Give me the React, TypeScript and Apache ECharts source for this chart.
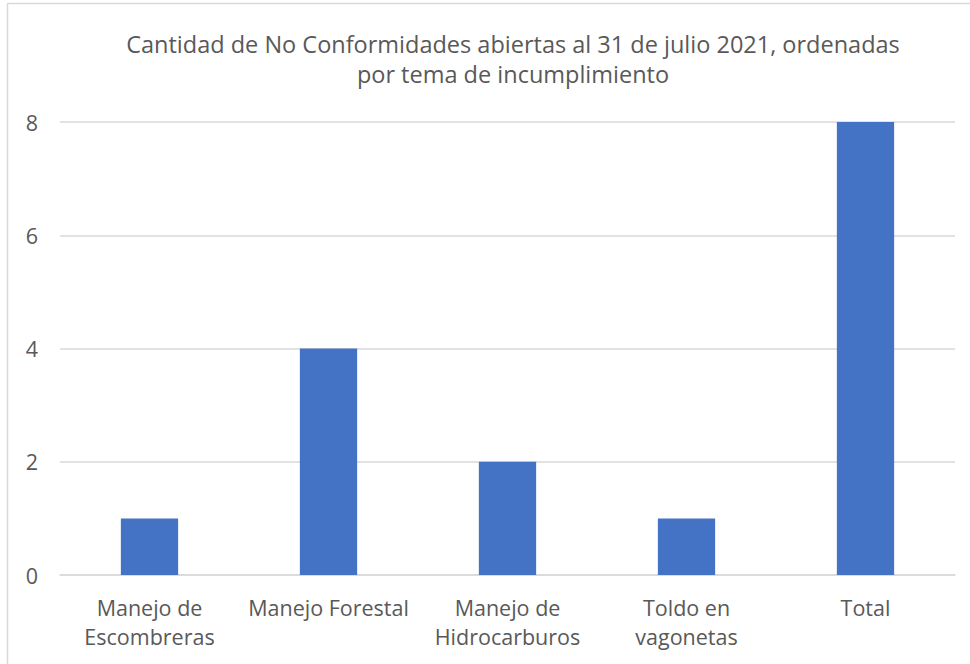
import React, { useEffect, useRef } from "react";
import * as echarts from "echarts";

const categories = [
  "Manejo de\nEscombreras",
  "Manejo Forestal",
  "Manejo de\nHidrocarburos",
  "Toldo en\nvagonetas",
  "Total",
];
const values = [1, 4, 2, 1, 8];
const titleText =
  "Cantidad de No Conformidades abiertas al 31 de julio 2021, ordenadas\npor tema de incumplimiento";

const FONT = "'Open Sans', sans-serif";

export default function App() {
  const ref = useRef<HTMLDivElement>(null);
  useEffect(() => {
    if (!ref.current) return;
    const chart = echarts.init(ref.current, undefined, { renderer: "svg" });
    chart.setOption({
      animation: false,
      backgroundColor: "#ffffff",
      title: {
        text: titleText,
        left: 508,
        top: 24,
        textAlign: "center",
        textStyle: {
          fontFamily: FONT,
          fontSize: 23.5,
          fontWeight: "normal",
          color: "#595959",
          lineHeight: 30,
        },
      },
      graphic: [
        {
          type: "line",
          shape: { x1: 7.5, y1: 3.5, x2: 970, y2: 3.5 },
          style: { stroke: "#d9d9d9", lineWidth: 1.5 },
        },
        {
          type: "line",
          shape: { x1: 7.5, y1: 3.5, x2: 7.5, y2: 664 },
          style: { stroke: "#d9d9d9", lineWidth: 1.5 },
        },
      ],
      grid: { left: 60, right: 15, top: 122, bottom: 89 },
      xAxis: {
        type: "category",
        data: categories,
        axisLine: { lineStyle: { color: "#d9d9d9", width: 1.5 } },
        axisTick: { show: false },
        axisLabel: {
          fontFamily: FONT,
          fontSize: 21.5,
          color: "#595959",
          lineHeight: 29,
          margin: 18,
          interval: 0,
        },
      },
      yAxis: {
        type: "value",
        min: 0,
        max: 8,
        interval: 2,
        axisLine: { show: false },
        axisTick: { show: false },
        splitLine: { lineStyle: { color: "#d9d9d9", width: 1.5 } },
        axisLabel: {
          fontFamily: FONT,
          fontSize: 21.5,
          color: "#595959",
          margin: 22,
        },
      },
      series: [
        {
          type: "bar",
          data: values,
          barWidth: "32%",
          itemStyle: { color: "#4472c4" },
        },
      ],
    });
    return () => chart.dispose();
  }, []);
  return (
    <div
      ref={ref}
      style={{ position: "fixed", left: 0, top: 0, width: 970, height: 664 }}
    />
  );
}
